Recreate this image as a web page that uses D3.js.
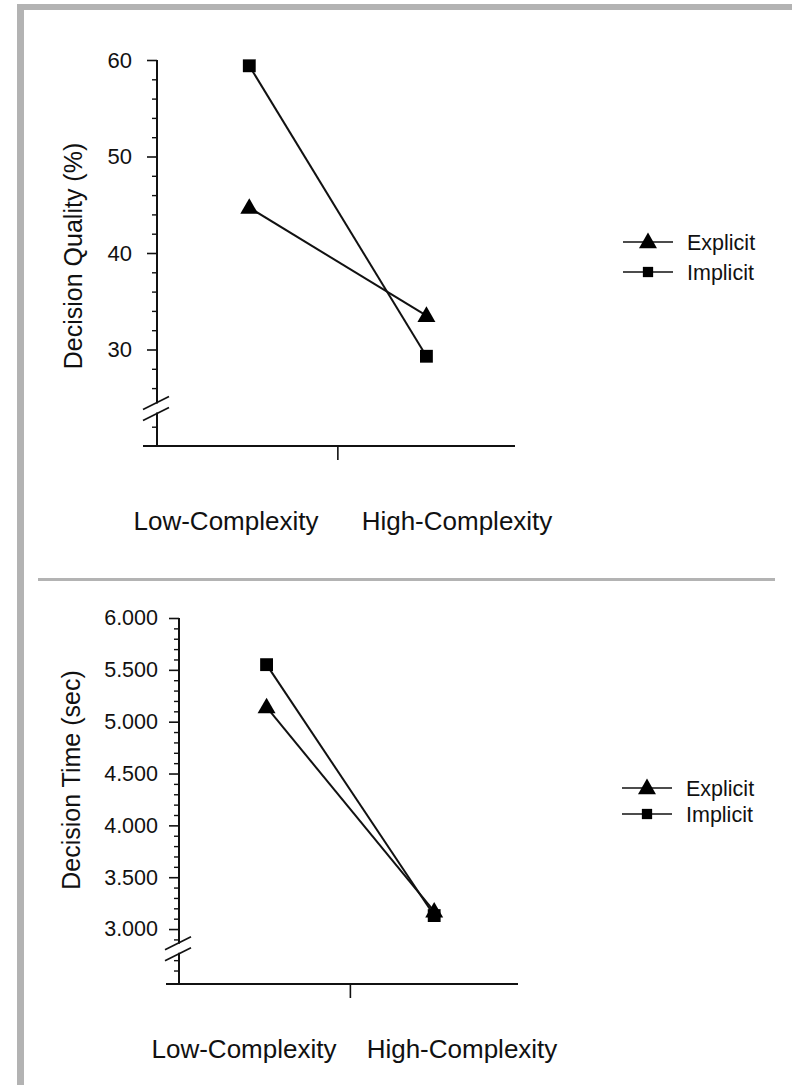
<!DOCTYPE html>
<html>
<head>
<meta charset="utf-8">
<script src="https://cdn.jsdelivr.net/npm/d3@7"></script>
<style>
  body { margin: 0; background: #fff; }
  text { font-family: "Liberation Sans", Arial, sans-serif; fill: #111; }
</style>
</head>
<body>
<div id="chart"></div>
<script>
// data
var categories = ["Low-Complexity", "High-Complexity"];
var seriesNames = ["Explicit", "Implicit"];

var qualityExplicit = [44.7, 33.5];
var qualityImplicit = [59.4, 29.3];
var qualityTicks = [30, 40, 50, 60];
var qualityMinor = [22, 26, 28, 32, 34, 36, 38, 42, 44, 46, 48, 52, 54, 56, 58];

var timeExplicit = [5.14, 3.17];
var timeImplicit = [5.55, 3.13];
var timeTicks = [3.0, 3.5, 4.0, 4.5, 5.0, 5.5, 6.0];
var timeMinor = [2.6, 2.7, 2.9, 3.1, 3.2, 3.3, 3.4, 3.6, 3.7, 3.8, 3.9, 4.1, 4.2, 4.3, 4.4,
	4.6, 4.7, 4.8, 4.9, 5.1, 5.2, 5.3, 5.4, 5.6, 5.7, 5.8, 5.9];

var width = 792, height = 1085;

var svg = d3.select('#chart').append('svg')
	.attr('width', width)
	.attr('height', height);

// grey frame and separator
svg.append('rect').attr('x', 17).attr('y', 4).attr('width', width - 17).attr('height', 6).attr('fill', '#b3b3b3');
svg.append('rect').attr('x', 17).attr('y', 4).attr('width', 7).attr('height', height - 4).attr('fill', '#b3b3b3');
svg.append('rect').attr('x', 38).attr('y', 578).attr('width', 737).attr('height', 3).attr('fill', '#b3b3b3');

function drawPanel(p) {
	var g = svg.append('g');

	var x = d3.scaleLinear().domain([-0.6, 1.5]).range([p.x0, p.x1]);
	var y = d3.scaleLinear().domain(p.domain).range([p.yBottom, p.yTop]);
	var axisX = x(-0.6) + p.axisOffset;

	// y axis line, broken near the bottom
	var breakY = y(p.breakAt);
	g.append('line').attr('x1', axisX).attr('x2', axisX)
		.attr('y1', y(p.domain[1])).attr('y2', breakY - 4)
		.attr('stroke', '#111').attr('stroke-width', 2);
	g.append('line').attr('x1', axisX).attr('x2', axisX)
		.attr('y1', breakY + 5).attr('y2', p.yBottom)
		.attr('stroke', '#111').attr('stroke-width', 2);
	[-5, 6].forEach(function (dy) {
		g.append('line')
			.attr('x1', axisX - 14).attr('y1', breakY + dy + 7)
			.attr('x2', axisX + 12).attr('y2', breakY + dy - 6)
			.attr('stroke', '#111').attr('stroke-width', 1.7);
	});

	var major = g.append('g').attr('transform', 'translate(' + axisX + ',0)')
		.call(d3.axisLeft(y).tickValues(p.ticks).tickSize(10).tickPadding(p.tickPad).tickFormat(p.format));
	major.select('.domain').remove();
	major.selectAll('line').attr('stroke', '#111').attr('stroke-width', 1.6);
	major.selectAll('text').attr('font-size', p.tickFont).attr('fill', '#111')
		.attr('font-family', '"Liberation Sans", Arial, sans-serif');

	var minor = g.append('g').attr('transform', 'translate(' + axisX + ',0)')
		.call(d3.axisLeft(y).tickValues(p.minor).tickSize(5).tickFormat(''));
	minor.select('.domain').remove();
	minor.selectAll('line').attr('stroke', '#111').attr('stroke-width', 1.4);

	// x axis
	g.append('line').attr('x1', p.x0).attr('x2', p.x1)
		.attr('y1', p.yBottom).attr('y2', p.yBottom)
		.attr('stroke', '#111').attr('stroke-width', 2);
	g.append('line').attr('x1', x(0.5)).attr('x2', x(0.5))
		.attr('y1', p.yBottom).attr('y2', p.yBottom + 14)
		.attr('stroke', '#111').attr('stroke-width', 1.6);

	// category labels
	g.selectAll('.cat').data(categories).enter().append('text')
		.attr('class', 'cat')
		.attr('x', (d, i) => p.catX[i])
		.attr('y', p.catY)
		.attr('text-anchor', 'middle')
		.attr('font-size', 26)
		.text(d => d);

	// y label
	g.append('text')
		.attr('transform', 'translate(' + p.labelX + ',' + p.labelY + ') rotate(-90)')
		.attr('text-anchor', 'middle')
		.attr('font-size', 25)
		.text(p.label);

	// series
	var line = d3.line().x((d, i) => x(i)).y(d => y(d));
	[p.explicit, p.implicit].forEach(function (vals) {
		g.append('path').datum(vals).attr('d', line)
			.attr('fill', 'none').attr('stroke', '#111').attr('stroke-width', 2);
	});
	var tri = d3.symbol().type(d3.symbolTriangle).size(140);
	var sq = d3.symbol().type(d3.symbolSquare).size(165);
	p.explicit.forEach(function (v, i) {
		g.append('path').attr('d', tri()).attr('fill', '#000')
			.attr('transform', 'translate(' + x(i) + ',' + (y(v) + 1) + ')');
	});
	p.implicit.forEach(function (v, i) {
		g.append('path').attr('d', sq()).attr('fill', '#000')
			.attr('transform', 'translate(' + x(i) + ',' + y(v) + ')');
	});

	// legend
	var leg = g.append('g').attr('transform', 'translate(' + p.legX + ',' + p.legY + ')');
	seriesNames.forEach(function (name, i) {
		var row = leg.append('g').attr('transform', 'translate(0,' + (i * p.legGap) + ')');
		row.append('line').attr('x1', -25).attr('x2', 25).attr('y1', 0).attr('y2', 0)
			.attr('stroke', '#111').attr('stroke-width', 1.6);
		row.append('path').attr('d', i === 0 ? tri() : sq())
			.attr('transform', i === 0 ? 'translate(0,1)' : 'scale(0.8)')
			.attr('fill', '#000');
		row.append('text').attr('x', 39).attr('y', 7.5).attr('font-size', 21.5).text(name);
	});
}

drawPanel({
	domain: [20, 60], yTop: 60, yBottom: 446, x0: 143, x1: 515, axisOffset: 14,
	ticks: qualityTicks, minor: qualityMinor, format: d3.format('d'), breakAt: 24,
	explicit: qualityExplicit, implicit: qualityImplicit, tickFont: 22, tickPad: 15,
	label: 'Decision Quality (%)', labelX: 82, labelY: 256,
	catX: [226, 457], catY: 530, legX: 648, legY: 242, legGap: 30
});

drawPanel({
	domain: [2.47, 6.0], yTop: 618, yBottom: 984, x0: 166, x1: 518, axisOffset: 13,
	ticks: timeTicks, minor: timeMinor, format: d3.format('.3f'), breakAt: 2.82,
	explicit: timeExplicit, implicit: timeImplicit, tickFont: 21.5, tickPad: 11,
	label: 'Decision Time (sec)', labelX: 80, labelY: 780,
	catX: [244, 462], catY: 1058, legX: 647, legY: 788, legGap: 26
});
</script>
</body>
</html>
